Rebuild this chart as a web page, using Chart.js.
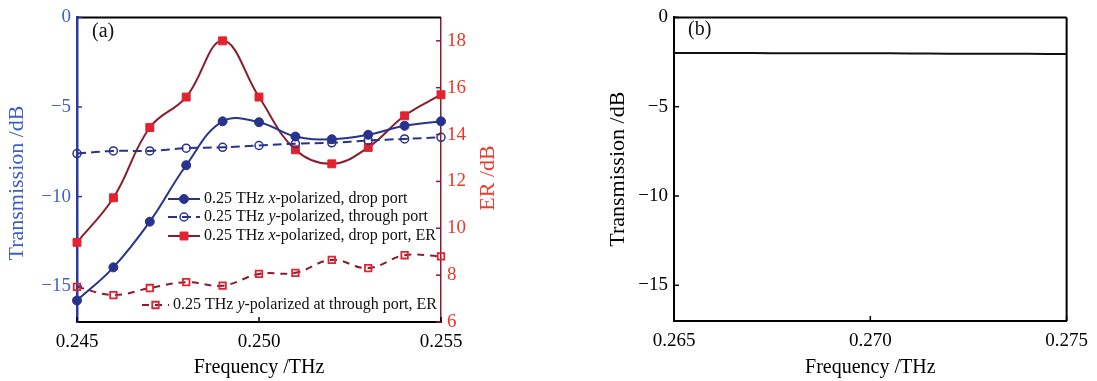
<!DOCTYPE html>
<html>
<head>
<meta charset="utf-8">
<script src="https://cdn.jsdelivr.net/npm/chart.js@4.4.1/dist/chart.umd.min.js"></script>
<style>
  body { margin: 0; background: #fff; }
  #wrap { position: relative; width: 1097px; height: 381px; }
  canvas { position: absolute; top: 0; }
  #chartA { left: 0; }
  #chartB { left: 560px; }
</style>
</head>
<body>
<div id="wrap">
  <canvas id="chartA" width="560" height="381"></canvas>
  <canvas id="chartB" width="537" height="381"></canvas>
</div>
<script>
// panel (a)
const freqA = [0.245, 0.246, 0.247, 0.248, 0.249, 0.250, 0.251, 0.252, 0.253, 0.254, 0.255];
const xDrop = [-15.8, -13.95, -11.4, -8.25, -5.8, -5.85, -6.65, -6.8, -6.55, -6.05, -5.8];
const yThrough = [-7.6, -7.45, -7.45, -7.3, -7.25, -7.15, -7.05, -7.0, -6.87, -6.78, -6.69];
const erXDrop = [9.4, 11.3, 14.3, 15.6, 18.0, 15.6, 13.35, 12.75, 13.45, 14.8, 15.7];
const erYThrough = [7.5, 7.15, 7.45, 7.7, 7.55, 8.05, 8.1, 8.65, 8.3, 8.85, 8.8];

// panel (b)
const freqB = [0.265, 0.266, 0.267, 0.268, 0.269, 0.270, 0.271, 0.272, 0.273, 0.274, 0.275];
const transB = [-2.0, -2.0, -2.0, -2.01, -2.01, -2.01, -2.02, -2.03, -2.04, -2.04, -2.05];

const ticksFreqA = [0.245, 0.250, 0.255];
const ticksFreqB = [0.265, 0.270, 0.275];
const ticksTrans = [0, -5, -10, -15];
const ticksER = [6, 8, 10, 12, 14, 16, 18];

const SERIF = '"Liberation Serif", "Times New Roman", serif';
const NAVY = "#28338e";
const MAROON = "#8c1c2c";
const RED = "#e3222f";
const AXIS_BLUE = "#2b3ba0";
const LABEL_BLUE = "#4163c4";
const LABEL_RED = "#ef3525";

const pts = (xs, ys) => xs.map((x, i) => ({ x, y: ys[i] }));
const fixTicks = list => scale => { scale.ticks = list.map(value => ({ value })); };
const minus = v => v < 0 ? "\u2212" + Math.abs(v) : String(v);

// inward tick marks, extra frame lines and free text
function decorPlugin(cfg) {
  return {
    id: "decor",
    afterDraw(chart) {
      const { ctx, chartArea: a, scales } = chart;
      ctx.save();
      (cfg.lines || []).forEach(l => {
        ctx.strokeStyle = l.color;
        ctx.lineWidth = l.width;
        ctx.beginPath();
        if (l.side === "top") { ctx.moveTo(a.left, a.top); ctx.lineTo(a.right, a.top); }
        if (l.side === "right") { ctx.moveTo(a.right, a.top); ctx.lineTo(a.right, a.bottom); }
        ctx.stroke();
      });
      (cfg.ticks || []).forEach(t => {
        const s = scales[t.scale];
        ctx.strokeStyle = t.color;
        ctx.lineWidth = 1.5;
        t.values.forEach(v => {
          const p = s.getPixelForValue(v);
          ctx.beginPath();
          if (t.side === "left") { ctx.moveTo(a.left, p); ctx.lineTo(a.left + 5, p); }
          if (t.side === "right") { ctx.moveTo(a.right, p); ctx.lineTo(a.right - 5, p); }
          if (t.side === "bottom") { ctx.moveTo(p, a.bottom); ctx.lineTo(p, a.bottom - 5); }
          ctx.stroke();
        });
      });
      (cfg.texts || []).forEach(t => {
        ctx.save();
        ctx.translate(t.x, t.y);
        if (t.rotate) ctx.rotate(-Math.PI / 2);
        ctx.fillStyle = t.color;
        ctx.font = t.size + "px " + SERIF;
        ctx.textAlign = t.align || "center";
        ctx.textBaseline = "middle";
        ctx.fillText(t.text, 0, 0);
        ctx.restore();
      });
      ctx.restore();
    }
  };
}

// legend drawn inside the plot, with italic x / y
const legendRows = [
  { ds: 0, x: 168, len: 32, y: 199, parts: ["0.25 THz ", "x", "-polarized, drop port"] },
  { ds: 1, x: 168, len: 32, y: 217, parts: ["0.25 THz ", "y", "-polarized, through port"] },
  { ds: 2, x: 168, len: 32, y: 236, parts: ["0.25 THz ", "x", "-polarized, drop port, ER"] },
  { ds: 3, x: 142, len: 27, y: 305, parts: ["0.25 THz ", "y", "-polarized at through port, ER"] }
];

const insideLegend = {
  id: "insideLegend",
  afterDraw(chart) {
    const ctx = chart.ctx;
    ctx.save();
    legendRows.forEach(row => {
      const ds = chart.data.datasets[row.ds];
      ctx.setLineDash(ds.borderDash || []);
      ctx.strokeStyle = ds.borderColor;
      ctx.lineWidth = ds.borderWidth;
      ctx.beginPath();
      ctx.moveTo(row.x, row.y);
      ctx.lineTo(row.x + row.len, row.y);
      ctx.stroke();
      ctx.setLineDash([]);
      ctx.fillStyle = ds.pointBackgroundColor;
      ctx.strokeStyle = ds.pointBorderColor;
      ctx.lineWidth = ds.pointBorderWidth;
      Chart.helpers.drawPoint(ctx, {
        pointStyle: ds.pointStyle, radius: ds.pointRadius,
        borderWidth: ds.pointBorderWidth, rotation: 0
      }, row.x + row.len / 2, row.y);
      let cx = row.x + row.len + 4;
      ctx.fillStyle = "#111";
      ctx.textBaseline = "middle";
      row.parts.forEach((p, i) => {
        ctx.font = (i % 2 ? "italic " : "") + "16px " + SERIF;
        ctx.fillText(p, cx, row.y);
        cx += ctx.measureText(p).width;
      });
    });
    ctx.restore();
  }
};

new Chart(document.getElementById("chartA"), {
  type: "line",
  data: {
    datasets: [
      {
        label: "0.25 THz x-polarized, drop port", data: pts(freqA, xDrop), yAxisID: "y",
        borderColor: NAVY, borderWidth: 2, tension: 0.4, clip: false,
        pointStyle: "circle", pointRadius: 4.5, pointBackgroundColor: NAVY,
        pointBorderColor: NAVY, pointBorderWidth: 1
      },
      {
        label: "0.25 THz y-polarized, through port", data: pts(freqA, yThrough), yAxisID: "y",
        borderColor: NAVY, borderWidth: 2, borderDash: [9, 5], tension: 0.4, clip: false,
        pointStyle: "circle", pointRadius: 4, pointBackgroundColor: "rgba(0,0,0,0)",
        pointBorderColor: NAVY, pointBorderWidth: 1.5
      },
      {
        label: "0.25 THz x-polarized, drop port, ER", data: pts(freqA, erXDrop), yAxisID: "y1",
        borderColor: MAROON, borderWidth: 2, tension: 0.4, clip: false,
        pointStyle: "rect", pointRadius: 5.6, pointBackgroundColor: RED,
        pointBorderColor: RED, pointBorderWidth: 1
      },
      {
        label: "0.25 THz y-polarized at through port, ER", data: pts(freqA, erYThrough), yAxisID: "y1",
        borderColor: MAROON, borderWidth: 2, borderDash: [7, 6], tension: 0.4, clip: false,
        pointStyle: "rect", pointRadius: 4.6, pointBackgroundColor: "rgba(0,0,0,0)",
        pointBorderColor: RED, pointBorderWidth: 1.8
      }
    ]
  },
  options: {
    responsive: false,
    animation: false,
    layout: { padding: { top: 14, left: 0, right: 0, bottom: 0 } },
    plugins: { legend: { display: false }, tooltip: { enabled: false } },
    scales: {
      x: {
        type: "linear", min: 0.245, max: 0.255,
        afterBuildTicks: fixTicks(ticksFreqA),
        afterFit: s => { s.height = 59; },
        grid: { display: false, drawTicks: false },
        border: { display: true, color: "#000", width: 2 },
        ticks: { color: "#000", font: { family: SERIF, size: 19 }, padding: 9, maxRotation: 0, callback: v => v.toFixed(3) },
        title: { display: true, text: "Frequency /THz", color: "#000", font: { family: SERIF, size: 20 }, padding: { top: 0, bottom: 1 } }
      },
      y: {
        position: "left", min: -17, max: 0,
        afterBuildTicks: fixTicks(ticksTrans),
        afterFit: s => { s.width = 77; },
        grid: { display: false, drawTicks: false },
        border: { display: true, color: AXIS_BLUE, width: 2.5 },
        ticks: { color: LABEL_BLUE, font: { family: SERIF, size: 19 }, padding: 6, callback: minus }
      },
      y1: {
        position: "right", min: 6, max: 19,
        afterBuildTicks: fixTicks(ticksER),
        afterFit: s => { s.width = 119; },
        grid: { display: false, drawTicks: false },
        border: { display: true, color: MAROON, width: 1.5 },
        ticks: { color: LABEL_RED, font: { family: SERIF, size: 19 }, padding: 6 }
      }
    }
  },
  plugins: [
    decorPlugin({
      lines: [{ side: "top", color: "#000", width: 2 }],
      ticks: [
        { scale: "y", side: "left", color: AXIS_BLUE, values: ticksTrans },
        { scale: "y1", side: "right", color: MAROON, values: ticksER },
        { scale: "x", side: "bottom", color: "#000", values: ticksFreqA }
      ],
      texts: [
        { text: "Transmission /dB", x: 17, y: 183, rotate: true, color: "#3d5fc0", size: 22 },
        { text: "ER /dB", x: 488, y: 178, rotate: true, color: "#ee3a2a", size: 22 },
        { text: "(a)", x: 92, y: 32, align: "left", color: "#111", size: 20 }
      ]
    }),
    insideLegend
  ]
});

new Chart(document.getElementById("chartB"), {
  type: "line",
  data: {
    datasets: [{
      label: "Transmission", data: pts(freqB, transB),
      borderColor: "#111", borderWidth: 2, pointRadius: 0, tension: 0.4
    }]
  },
  options: {
    responsive: false,
    animation: false,
    layout: { padding: { top: 15, left: 40, right: 10, bottom: 0 } },
    plugins: { legend: { display: false }, tooltip: { enabled: false } },
    scales: {
      x: {
        type: "linear", min: 0.265, max: 0.275,
        afterBuildTicks: fixTicks(ticksFreqB),
        afterFit: s => { s.height = 60; },
        grid: { display: false, drawTicks: false },
        border: { display: true, color: "#000", width: 2 },
        ticks: { color: "#000", font: { family: SERIF, size: 19 }, padding: 9, maxRotation: 0, callback: v => v.toFixed(3) },
        title: { display: true, text: "Frequency /THz", color: "#000", font: { family: SERIF, size: 20 }, padding: { top: 0, bottom: 1 } }
      },
      y: {
        min: -17, max: 0,
        afterBuildTicks: fixTicks(ticksTrans),
        afterFit: s => { s.width = 74; },
        grid: { display: false, drawTicks: false },
        border: { display: true, color: "#000", width: 2 },
        ticks: { color: "#000", font: { family: SERIF, size: 19 }, padding: 6, callback: minus },
        title: { display: true, text: "Transmission /dB", color: "#000", font: { family: SERIF, size: 22 }, padding: { top: 5, bottom: 5 } }
      }
    }
  },
  plugins: [
    decorPlugin({
      lines: [{ side: "top", color: "#000", width: 2 }, { side: "right", color: "#000", width: 2 }],
      ticks: [
        { scale: "y", side: "left", color: "#000", values: ticksTrans },
        { scale: "x", side: "bottom", color: "#000", values: ticksFreqB }
      ],
      texts: [{ text: "(b)", x: 128, y: 30, align: "left", color: "#111", size: 20 }]
    })
  ]
});
</script>
</body>
</html>
